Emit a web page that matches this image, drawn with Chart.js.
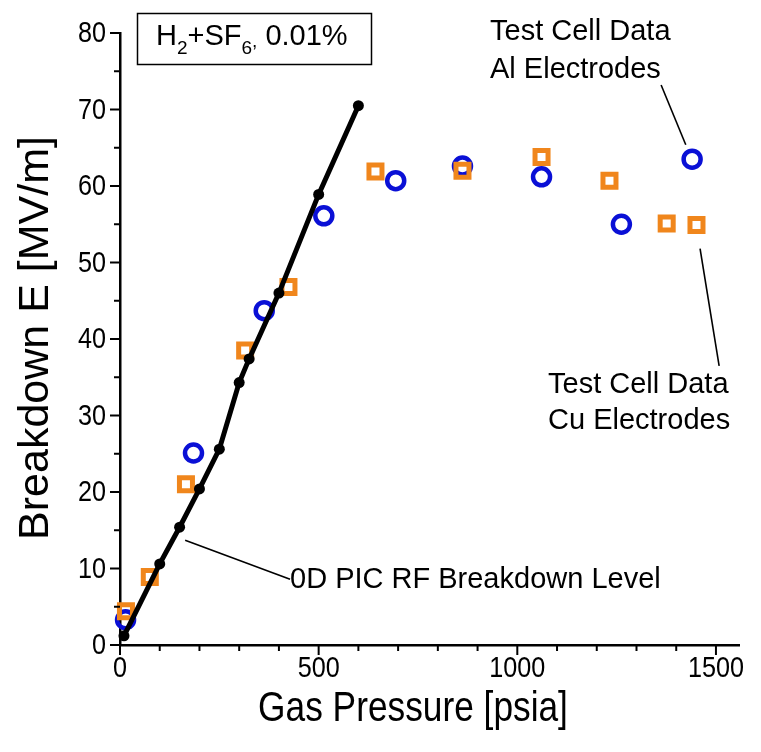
<!DOCTYPE html>
<html>
<head>
<meta charset="utf-8">
<script src="https://cdn.jsdelivr.net/npm/chart.js@4"></script>
<style>
  html, body { margin: 0; padding: 0; background: #fff; }
  #wrap { width: 761px; height: 752px; }
</style>
</head>
<body>
<div id="wrap"><canvas id="chart" width="761" height="752"></canvas></div>
<script>
// 0D PIC RF breakdown level (black line with dots)
const pressurePic = [10, 100, 150, 200, 250, 300, 325, 400, 500, 600];
const fieldPic = [1.2, 10.6, 15.4, 20.4, 25.6, 34.3, 37.4, 46.0, 58.9, 70.5];

// Test cell data, Al electrodes (blue circles)
const pressureAl = [14, 185, 363, 513, 694, 862, 1061, 1262, 1440];
const fieldAl = [3.3, 25.1, 43.7, 56.1, 60.7, 62.6, 61.2, 55.0, 63.5];

// Test cell data, Cu electrodes (orange squares)
const pressureCu = [15, 75, 166, 315, 424, 643, 862, 1061, 1232, 1376, 1451];
const fieldCu = [4.4, 8.9, 21.0, 38.5, 46.8, 61.9, 62.0, 63.8, 60.7, 55.1, 54.9];

// axis ticks
const xMajorTicks = [0, 500, 1000, 1500];
const xMinorTicks = [100, 200, 300, 400, 600, 700, 800, 900, 1100, 1200, 1300, 1400];
const yMajorTicks = [0, 10, 20, 30, 40, 50, 60, 70, 80];
const yMinorTicks = [5, 15, 25, 35, 45, 55, 65, 75];

const toPoints = (xs, ys) => xs.map((x, i) => ({ x: x, y: ys[i] }));

const SANS = '"Liberation Sans", Arial, sans-serif';
const SQUEEZE = 0.84; // the original uses a condensed face for ticks and x title

// tick marks, tick labels, axis titles and the annotations
const decorations = {
  id: 'decorations',
  afterDraw(chart) {
    const ctx = chart.ctx;
    const xs = chart.scales.x, ys = chart.scales.y;
    const area = chart.chartArea;
    ctx.save();
    ctx.strokeStyle = '#000';
    ctx.fillStyle = '#000';
    ctx.lineWidth = 2;

    const seg = (x1, y1, x2, y2) => {
      ctx.beginPath(); ctx.moveTo(x1, y1); ctx.lineTo(x2, y2); ctx.stroke();
    };
    const narrowText = (t, x, y, align) => {
      ctx.save();
      ctx.translate(x, y);
      ctx.scale(SQUEEZE, 1);
      ctx.textAlign = align;
      ctx.fillText(t, 0, 0);
      ctx.restore();
    };

    xMajorTicks.forEach(v => { const p = xs.getPixelForValue(v); seg(p, area.bottom, p, area.bottom + 10); });
    xMinorTicks.forEach(v => { const p = xs.getPixelForValue(v); seg(p, area.bottom, p, area.bottom + 6); });
    yMajorTicks.forEach(v => { const p = ys.getPixelForValue(v); seg(area.left, p, area.left - 10, p); });
    yMinorTicks.forEach(v => { const p = ys.getPixelForValue(v); seg(area.left, p, area.left - 6, p); });

    // tick labels
    ctx.font = '30px ' + SANS;
    ctx.textBaseline = 'middle';
    xMajorTicks.forEach(v => narrowText(String(v), xs.getPixelForValue(v), area.bottom + 24, 'center'));
    yMajorTicks.forEach(v => narrowText(String(v), area.left - 14, ys.getPixelForValue(v) + 1, 'right'));

    // axis titles
    ctx.font = '42px ' + SANS;
    narrowText('Gas Pressure [psia]', 413, 709, 'center');
    ctx.save();
    ctx.translate(36, 338);
    ctx.rotate(-Math.PI / 2);
    ctx.font = '43px ' + SANS;
    ctx.textAlign = 'center';
    ctx.fillText('Breakdown E [MV/m]', 0, 0);
    ctx.restore();

    // leader lines
    ctx.lineWidth = 1.6;
    const lead = (a, b) => seg(xs.getPixelForValue(a[0]), ys.getPixelForValue(a[1]),
                               xs.getPixelForValue(b[0]), ys.getPixelForValue(b[1]));
    lead([164, 13.7], [428, 8.6]);
    lead([1362, 73.2], [1424, 65.4]);
    lead([1460, 51.8], [1508, 36.5]);

    // annotation texts
    ctx.font = '29px ' + SANS;
    ctx.textAlign = 'left';
    ctx.fillText('0D PIC RF Breakdown Level', 290, 580);
    ctx.fillText('Test Cell Data', 490, 32);
    ctx.fillText('Al Electrodes', 490, 70);
    ctx.fillText('Test Cell Data', 548, 385);
    ctx.fillText('Cu Electrodes', 548, 421);

    // gas mixture box
    ctx.lineWidth = 1.5;
    ctx.strokeRect(137.5, 13.5, 234, 51);
    ctx.textBaseline = 'alphabetic';
    let x = 156;
    const part = (t, size, dy) => {
      ctx.font = size + 'px ' + SANS;
      ctx.fillText(t, x, 45 + dy);
      x += ctx.measureText(t).width;
    };
    part('H', 29, 0);
    part('2', 19, 9);
    part('+SF', 29, 0);
    part('6', 19, 9);
    part(',', 19, 2);
    part(' 0.01%', 29, 0);
    ctx.restore();
  }
};

new Chart(document.getElementById('chart'), {
  type: 'scatter',
  data: {
    datasets: [
      {
        label: '0D PIC RF Breakdown Level',
        data: toPoints(pressurePic, fieldPic),
        showLine: true,
        borderColor: '#000',
        borderWidth: 5,
        pointRadius: 5.5,
        pointBackgroundColor: '#000',
        pointBorderWidth: 0,
        tension: 0,
        clip: false
      },
      {
        label: 'Test Cell Data Cu Electrodes',
        data: toPoints(pressureCu, fieldCu),
        pointStyle: 'rect',
        pointRadius: 9.2,
        pointBorderWidth: 5,
        borderColor: '#f0861c',
        backgroundColor: 'rgba(0,0,0,0)',
        clip: false
      },
      {
        label: 'Test Cell Data Al Electrodes',
        data: toPoints(pressureAl, fieldAl),
        pointStyle: 'circle',
        pointRadius: 8.5,
        pointBorderWidth: 4.5,
        borderColor: '#0a10d6',
        backgroundColor: 'rgba(0,0,0,0)',
        clip: false
      }
    ]
  },
  options: {
    responsive: false,
    animation: false,
    layout: { padding: { left: 0, top: 33, right: 22, bottom: 0 } },
    plugins: { legend: { display: false }, tooltip: { enabled: false } },
    scales: {
      x: {
        type: 'linear',
        min: 0,
        max: 1558,
        afterBuildTicks: axis => { axis.ticks = xMajorTicks.map(v => ({ value: v })); },
        afterFit: scale => { scale.height = 107; },
        grid: { display: false, drawTicks: false },
        border: { display: true, color: '#000', width: 2.5 },
        ticks: { display: false }
      },
      y: {
        type: 'linear',
        min: 0,
        max: 80,
        afterBuildTicks: axis => { axis.ticks = yMajorTicks.map(v => ({ value: v })); },
        afterFit: scale => { scale.width = 120; },
        grid: { display: false, drawTicks: false },
        border: { display: true, color: '#000', width: 2.5 },
        ticks: { display: false }
      }
    }
  },
  plugins: [decorations]
});
</script>
</body>
</html>
